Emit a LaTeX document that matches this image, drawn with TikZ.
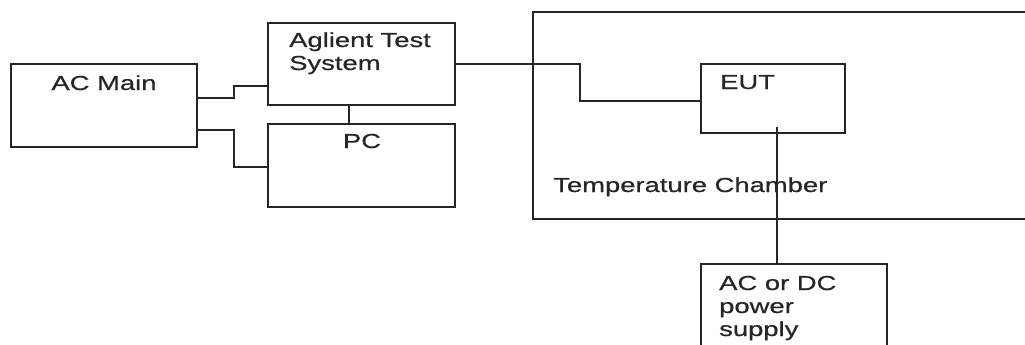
\documentclass[tikz,border=0pt]{standalone}
\usepackage{fontspec}
\newfontfamily\diafont[FakeStretch=1.35,FakeBold=0.6]{Liberation Sans}
\begin{document}
\begin{tikzpicture}[x=1pt,y=-1pt,
  box/.style={draw=black!85, line width=1.6pt, inner sep=0pt},
  wire/.style={draw=black!85, line width=1.6pt},
  txt/.style={inner sep=0pt, text=black!85, font=\diafont\fontsize{20.3}{23}\selectfont}]
\useasboundingbox (0,0) rectangle (1025,345);
% boxes
\node[box, minimum width=186pt, minimum height=83pt] (acmain) at (104,105.5) {};
\node[box, minimum width=187pt, minimum height=82pt] (ats) at (361.5,64) {};
\node[box, minimum width=187pt, minimum height=83pt] (pc) at (361.5,165.5) {};
\node[box, minimum width=510pt, minimum height=207pt] (chamber) at (788,115.5) {};
\node[box, minimum width=144pt, minimum height=69pt] (eut) at (773,98.5) {};
\node[box, minimum width=186pt, minimum height=120pt] (psu) at (794,324) {};
% texts
\node[txt, anchor=base] (acmaint) at (104,90) {AC Main};
\node[txt, anchor=base west] (atst1) at (289,47) {Aglient Test};
\node[txt, anchor=base west] (atst2) at (289,70) {System};
\node[txt, anchor=base] (pct) at (362,148) {PC};
\node[txt, anchor=base west] (eutt) at (720,89) {EUT};
\node[txt, anchor=base west] (chambert) at (553,192) {Temperature Chamber};
\node[txt, anchor=base west] (psut1) at (719,290) {AC or DC};
\node[txt, anchor=base west] (psut2) at (719,313) {power};
\node[txt, anchor=base west] (psut3) at (719,336) {supply};
% connectors
\draw[wire] ([yshift=7.5pt]acmain.east) -- ++(36,0) |- ([yshift=-22pt]ats.west);
\draw[wire] ([yshift=-24.5pt]acmain.east) -- ++(36,0) |- ([yshift=-1.5pt]pc.west);
\draw[wire] ([xshift=-12.5pt]ats.south) -- ([xshift=-12.5pt]pc.north);
\draw[wire] (ats.east) -- ++(124,0) |- ([yshift=-2.5pt]eut.west);
\coordinate (eutp) at ([xshift=4pt,yshift=-28.5pt]eut.center);
\draw[wire] (eutp) -- (eutp |- psu.north);
\end{tikzpicture}
\end{document}
